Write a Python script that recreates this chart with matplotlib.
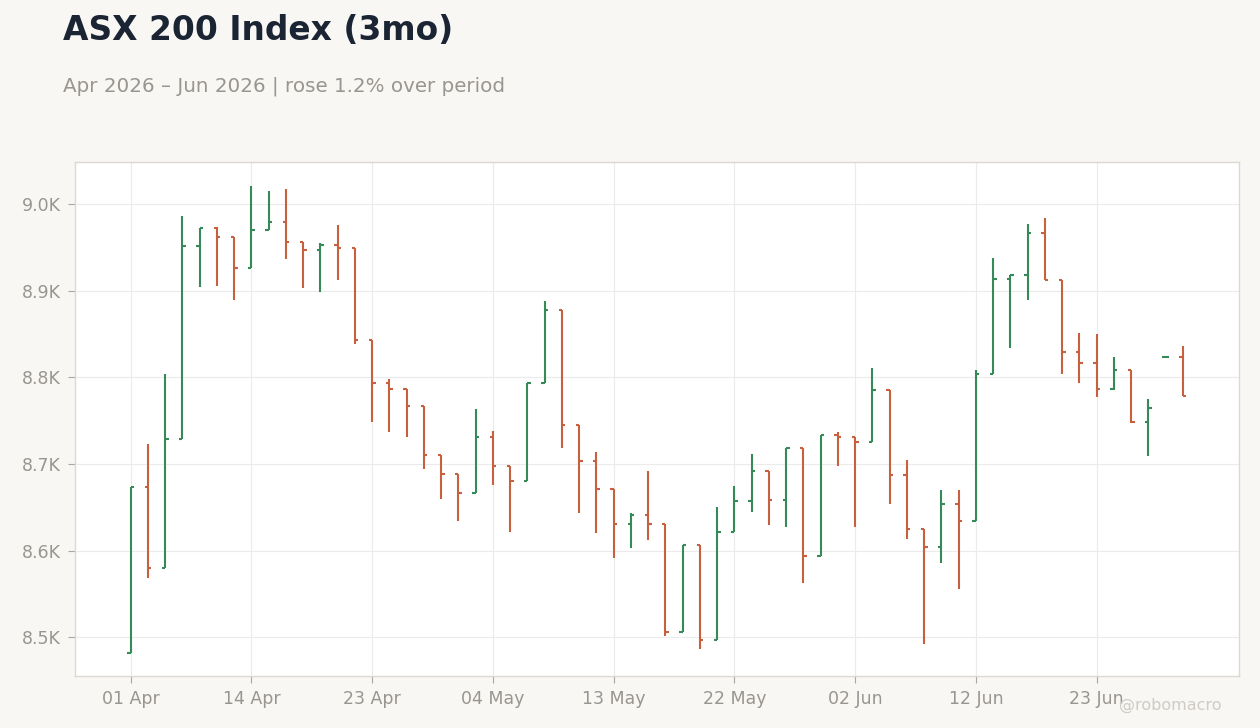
import matplotlib
matplotlib.use("Agg")
import matplotlib.pyplot as plt
import numpy as np
import pandas as pd
from matplotlib.ticker import FuncFormatter, FixedLocator

# Trading days (ASX calendar, Apr-Jun 2026)
dates = pd.to_datetime([
    "2026-04-01", "2026-04-02", "2026-04-07", "2026-04-08", "2026-04-09", "2026-04-10",
    "2026-04-13", "2026-04-14", "2026-04-15", "2026-04-16", "2026-04-17", "2026-04-20",
    "2026-04-21", "2026-04-22", "2026-04-23", "2026-04-24", "2026-04-27", "2026-04-28",
    "2026-04-29", "2026-04-30", "2026-05-01", "2026-05-04", "2026-05-05", "2026-05-06",
    "2026-05-07", "2026-05-08", "2026-05-11", "2026-05-12", "2026-05-13", "2026-05-14",
    "2026-05-15", "2026-05-18", "2026-05-19", "2026-05-20", "2026-05-21", "2026-05-22",
    "2026-05-25", "2026-05-26", "2026-05-27", "2026-05-28", "2026-05-29", "2026-06-01",
    "2026-06-02", "2026-06-03", "2026-06-04", "2026-06-05", "2026-06-09", "2026-06-10",
    "2026-06-11", "2026-06-12", "2026-06-15", "2026-06-16", "2026-06-17", "2026-06-18",
    "2026-06-19", "2026-06-22", "2026-06-23", "2026-06-24", "2026-06-25", "2026-06-26",
    "2026-06-29", "2026-06-30",
])

open_ = [8482, 8673, 8580, 8729, 8952, 8973, 8962, 8926, 8970, 8979, 8956, 8947,
         8953, 8950, 8843, 8794, 8787, 8767, 8710, 8688, 8667, 8731, 8698, 8680,
         8794, 8878, 8745, 8703, 8671, 8631, 8641, 8631, 8506, 8606, 8497, 8622,
         8657, 8692, 8659, 8718, 8594, 8733, 8731, 8725, 8786, 8687, 8625, 8604,
         8654, 8634, 8804, 8914, 8918, 8967, 8912, 8829, 8817, 8787, 8809, 8749,
         8824, 8824]
high = [8673, 8723, 8804, 8987, 8973, 8974, 8962, 9021, 9015, 9018, 8956, 8955,
        8976, 8950, 8843, 8798, 8787, 8767, 8710, 8688, 8764, 8738, 8698, 8794,
        8888, 8878, 8745, 8714, 8671, 8644, 8692, 8631, 8607, 8606, 8650, 8675,
        8712, 8692, 8718, 8718, 8733, 8737, 8731, 8811, 8786, 8705, 8625, 8670,
        8670, 8809, 8938, 8918, 8977, 8984, 8912, 8851, 8850, 8824, 8809, 8775,
        8824, 8836]
low = [8482, 8568, 8580, 8729, 8905, 8906, 8890, 8926, 8970, 8937, 8903, 8899,
       8912, 8839, 8749, 8737, 8731, 8694, 8660, 8634, 8667, 8676, 8622, 8680,
       8794, 8718, 8644, 8620, 8592, 8603, 8612, 8501, 8506, 8486, 8497, 8622,
       8645, 8630, 8627, 8563, 8594, 8698, 8627, 8725, 8654, 8614, 8492, 8586,
       8556, 8634, 8804, 8834, 8889, 8912, 8804, 8794, 8778, 8785, 8748, 8709,
       8824, 8779]
close = [8673, 8580, 8729, 8952, 8973, 8962, 8926, 8970, 8979, 8956, 8947, 8953,
         8950, 8843, 8794, 8787, 8767, 8710, 8688, 8667, 8731, 8698, 8680, 8794,
         8878, 8745, 8703, 8671, 8631, 8641, 8631, 8506, 8606, 8497, 8622, 8657,
         8692, 8659, 8718, 8594, 8733, 8731, 8725, 8786, 8687, 8625, 8604, 8654,
         8634, 8804, 8914, 8918, 8967, 8912, 8829, 8817, 8787, 8809, 8749, 8765,
         8824, 8779]

tick_labels = ["01 Apr", "14 Apr", "23 Apr", "04 May", "13 May", "22 May",
               "02 Jun", "12 Jun", "23 Jun"]

UP = "#358a58"
DOWN = "#c8603f"
BG = "#f8f7f4"
TXT = "#999590"

fig = plt.figure(figsize=(12.6, 7.28), dpi=100, facecolor=BG)
ax = fig.add_axes([75 / 1260, 52 / 728, (1239 - 75) / 1260, (676 - 162) / 728])
ax.set_facecolor("white")

o = np.array(open_, float)
h = np.array(high, float)
l = np.array(low, float)
c = np.array(close, float)
x = np.arange(len(dates))
colors = [UP if cc >= oo else DOWN for oo, cc in zip(o, c)]
tw = 0.2
ax.vlines(x, l, h, colors=colors, linewidth=1.5, zorder=3)
ax.hlines(o, x - tw, x, colors=colors, linewidth=1.5, zorder=3)
ax.hlines(c, x, x + tw, colors=colors, linewidth=1.5, zorder=3)

ax.set_xlim(-3.23, 64.25)
ax.set_ylim(8455.3, 9048.8)

date_str = [d.strftime("%d %b") for d in dates]
tick_pos = [date_str.index(t) for t in tick_labels]
ax.xaxis.set_major_locator(FixedLocator(tick_pos))
ax.set_xticklabels(tick_labels)
ax.set_yticks([8500, 8600, 8700, 8800, 8900, 9000])
ax.yaxis.set_major_formatter(FuncFormatter(lambda v, p: f"{v/1000:.1f}K"))

ax.grid(True, color="#ebebeb", linewidth=0.8, zorder=0)
ax.set_axisbelow(True)
for s in ax.spines.values():
    s.set_color("#dcd8d2")
    s.set_linewidth(1.0)
ax.tick_params(axis="both", colors="#aaa6a0", labelcolor=TXT, labelsize=12.5,
               length=5, width=0.8, pad=5)

fig.text(63 / 1260, 1 - 40 / 728, "ASX 200 Index (3mo)", fontsize=23.7,
         fontweight="bold", color="#1a2433", va="baseline", ha="left")
fig.text(63 / 1260, 1 - 92 / 728, "Apr 2026 – Jun 2026 | rose 1.2% over period",
         fontsize=14.3, color=TXT, va="baseline", ha="left")
fig.text(1222 / 1260, 1 - 705 / 728, "@robomacro", fontsize=11.5, color="#cfcbc6",
         va="center", ha="right")

fig.savefig("out.png", dpi=100, facecolor=BG)
